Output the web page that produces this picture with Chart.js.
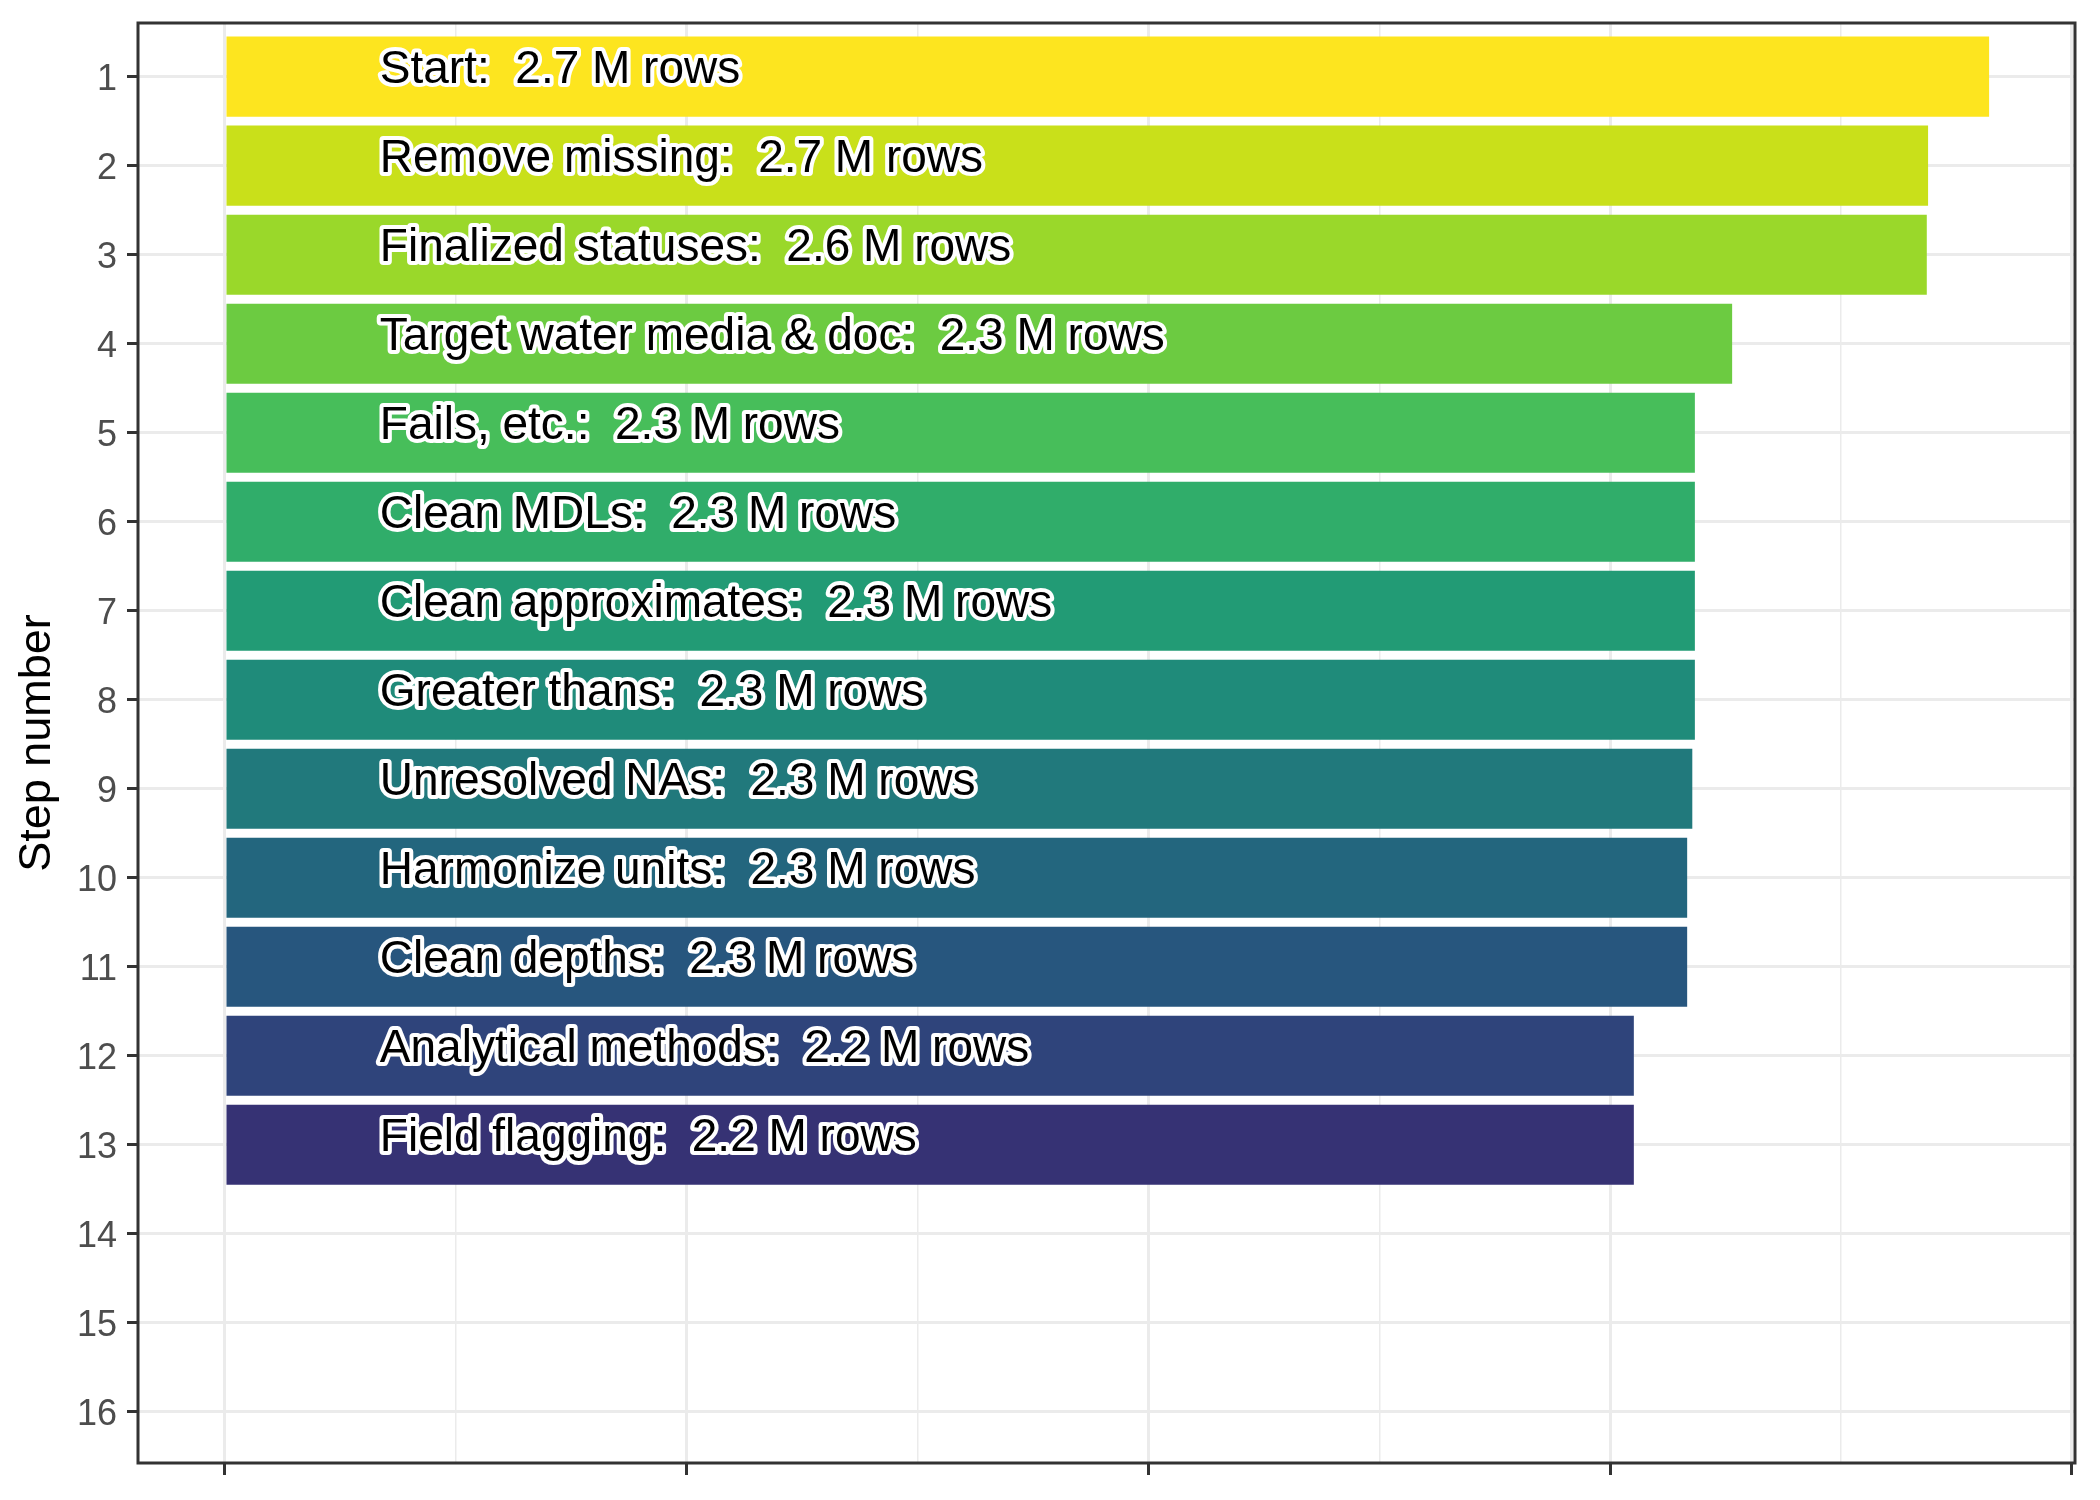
<!DOCTYPE html>
<html>
<head>
<meta charset="utf-8">
<script src="https://cdn.jsdelivr.net/npm/chart.js@4.4.1/dist/chart.umd.min.js"></script>
<style>
  html, body { margin: 0; padding: 0; background: #ffffff; }
  #wrap { width: 2100px; height: 1500px; position: relative; }
</style>
</head>
<body>
<div id="wrap"><canvas id="c"></canvas></div>
<script>
// ---- data ----
const steps = [1, 2, 3, 4, 5, 6, 7, 8, 9, 10, 11, 12, 13];
const stepNames = [
  'Start', 'Remove missing', 'Finalized statuses', 'Target water media & doc',
  'Fails, etc.', 'Clean MDLs', 'Clean approximates', 'Greater thans',
  'Unresolved NAs', 'Harmonize units', 'Clean depths', 'Analytical methods',
  'Field flagging'
];
// rows remaining after each step, in millions
const rowsMillions = [2.746, 2.651, 2.649, 2.346, 2.288, 2.288, 2.288, 2.288, 2.284, 2.276, 2.276, 2.193, 2.193];
const stepColors = ['#FDE51F', '#C9E01A', '#9AD82A', '#6CCB41', '#47BE5A', '#30AD6A', '#229B75',
                    '#1F8B7A', '#21797C', '#23667E', '#27567E', '#2F447B', '#363274'];
const yTicks = [1, 2, 3, 4, 5, 6, 7, 8, 9, 10, 11, 12, 13, 14, 15, 16];
const xTicks = [0, 0.359375, 0.71875, 1.078125, 1.4375, 1.796875, 2.15625, 2.515625, 2.875];
const xMajor = [0, 0.71875, 1.4375, 2.15625, 2.875];
const labelX = 0.241; // label anchor (million rows)

const FONT = "'Liberation Sans', Arial, Helvetica, sans-serif";

const points = steps.map((s, i) => ({ x: rowsMillions[i], y: s }));
const labels = steps.map((s, i) => stepNames[i] + ':  ' + rowsMillions[i].toFixed(1) + ' M rows');

const isMajorX = v => xMajor.some(m => Math.abs(m - v) < 1e-9);

const barLabels = {
  id: 'barLabels',
  afterDatasetsDraw(chart) {
    const { ctx, scales: { x, y } } = chart;
    const fs = 46;
    ctx.save();
    ctx.font = fs + 'px ' + FONT;
    ctx.textAlign = 'left';
    ctx.textBaseline = 'alphabetic';
    ctx.lineJoin = 'round';
    ctx.miterLimit = 2;
    steps.forEach((s, i) => {
      const px = x.getPixelForValue(labelX);
      const py = y.getPixelForValue(s) + 0.147 * fs;
      ctx.strokeStyle = '#ffffff';
      ctx.lineWidth = 8;
      ctx.strokeText(labels[i], px, py);
      ctx.fillStyle = '#000000';
      ctx.fillText(labels[i], px, py);
    });
    ctx.restore();
  }
};

const panelBorder = {
  id: 'panelBorder',
  afterDraw(chart) {
    const { ctx, chartArea: a } = chart;
    ctx.save();
    ctx.strokeStyle = '#333333';
    ctx.lineWidth = 3;
    ctx.strokeRect(a.left, a.top, a.right - a.left, a.bottom - a.top);
    ctx.restore();
  }
};

new Chart(document.getElementById('c'), {
  type: 'bar',
  data: {
    datasets: [{
      data: points,
      backgroundColor: stepColors,
      borderWidth: 0,
      barPercentage: 0.9,
      categoryPercentage: 1.0
    }]
  },
  options: {
    indexAxis: 'y',
    responsive: true,
    maintainAspectRatio: false,
    devicePixelRatio: 1,
    animation: false,
    layout: { padding: { left: 0, top: 23, right: 25, bottom: 0 } },
    plugins: { legend: { display: false }, tooltip: { enabled: false } },
    scales: {
      x: {
        type: 'linear',
        position: 'bottom',
        offset: false,
        min: -0.1354,
        max: 2.8797,
        afterBuildTicks: s => { s.ticks = xTicks.map(v => ({ value: v })); },
        afterFit: s => { s.height = 37; s.paddingLeft = 0; s.paddingRight = 0; },
        ticks: { display: false },
        border: { display: false },
        grid: {
          offset: false,
          color: '#EBEBEB',
          lineWidth: c => (c.tick && isMajorX(c.tick.value)) ? 3 : 1.5,
          drawTicks: true,
          tickLength: 12,
          tickWidth: 3,
          tickColor: c => (c.tick && isMajorX(c.tick.value)) ? '#333333' : 'rgba(0,0,0,0)'
        }
      },
      y: {
        type: 'linear',
        position: 'left',
        reverse: true,
        offset: false,
        min: 0.397,
        max: 16.576,
        afterBuildTicks: s => { s.ticks = yTicks.map(v => ({ value: v })); },
        afterFit: s => { s.width = 138; s.paddingTop = 0; s.paddingBottom = 0; },
        ticks: {
          autoSkip: false,
          color: '#4D4D4D',
          font: { family: FONT, size: 36 },
          padding: 10,
          labelOffset: 3,
          callback: v => String(v)
        },
        border: { display: false },
        grid: {
          offset: false,
          color: '#EBEBEB',
          lineWidth: 3,
          drawTicks: true,
          tickLength: 11,
          tickWidth: 3,
          tickColor: '#333333'
        },
        title: {
          display: true,
          text: 'Step number',
          color: '#000000',
          font: { family: FONT, size: 45 },
          padding: { top: 11, bottom: 0 }
        }
      }
    }
  },
  plugins: [barLabels, panelBorder]
});
</script>
</body>
</html>
